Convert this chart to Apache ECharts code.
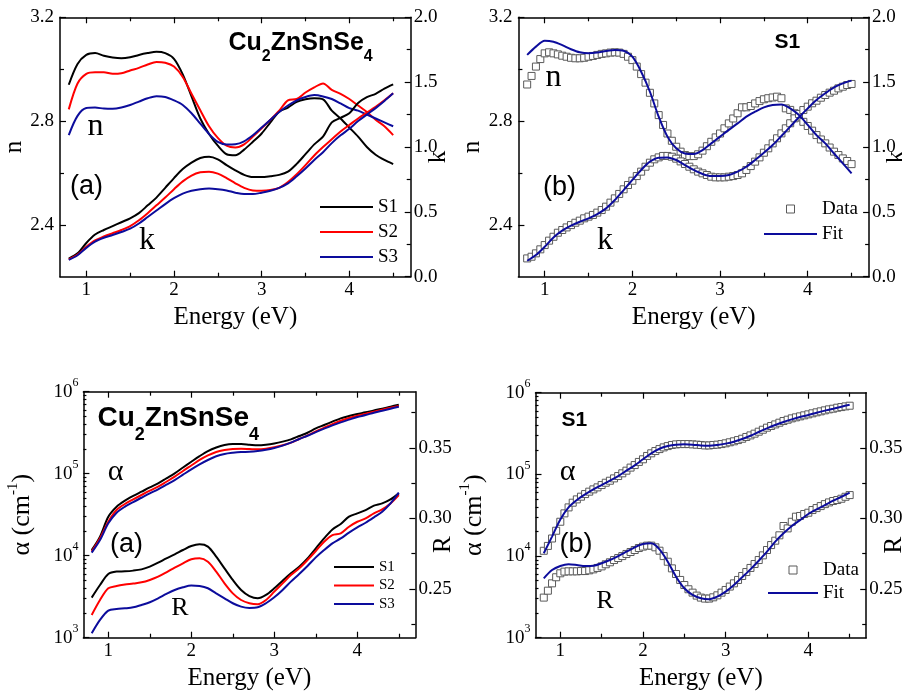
<!DOCTYPE html>
<html><head><meta charset="utf-8">
<script src="https://cdn.jsdelivr.net/npm/echarts@6/dist/echarts.min.js"></script>
<style>html,body{margin:0;padding:0;background:#fff}#c{width:902px;height:695px}</style>
</head><body><div id="c"></div>
<script>
// ---------- DATA ----------
const energy10 = [0.8,0.9,1.0,1.1,1.2,1.3,1.4,1.5,1.6,1.7,1.8,1.9,2.0,2.1,2.2,2.3,2.4,2.5,2.6,2.7,2.8,2.9,3.0,3.1,3.2,3.3,3.4,3.5,3.6,3.7,3.8,3.9,4.0,4.1,4.2,4.3,4.4,4.5];
const energy05 = [0.8,0.85,0.9,0.95,1.0,1.05,1.1,1.15,1.2,1.25,1.3,1.35,1.4,1.45,1.5,1.55,1.6,1.65,1.7,1.75,1.8,1.85,1.9,1.95,2.0,2.05,2.1,2.15,2.2,2.25,2.3,2.35,2.4,2.45,2.5,2.55,2.6,2.65,2.7,2.75,2.8,2.85,2.9,2.95,3.0,3.05,3.1,3.15,3.2,3.25,3.3,3.35,3.4,3.45,3.5,3.55,3.6,3.65,3.7,3.75,3.8,3.85,3.9,3.95,4.0,4.05,4.1,4.15,4.2,4.25,4.3,4.35,4.4,4.45,4.5];

// (a) top: n and k of samples S1..S3
const nS1 = [2.94,3.02,3.055,3.062,3.052,3.045,3.042,3.046,3.055,3.062,3.067,3.062,3.04,2.98,2.895,2.81,2.75,2.705,2.672,2.668,2.69,2.72,2.752,2.795,2.836,2.852,2.874,2.884,2.888,2.884,2.84,2.81,2.775,2.74,2.70,2.67,2.65,2.634];
const nS2 = [2.845,2.945,2.982,2.988,2.988,2.982,2.984,2.995,3.005,3.018,3.028,3.025,3.01,2.97,2.905,2.842,2.78,2.735,2.705,2.698,2.71,2.74,2.772,2.805,2.84,2.88,2.885,2.91,2.93,2.945,2.92,2.905,2.885,2.86,2.835,2.805,2.78,2.746];
const nS3 = [2.746,2.82,2.85,2.852,2.848,2.847,2.852,2.862,2.875,2.888,2.896,2.893,2.88,2.862,2.83,2.79,2.75,2.72,2.71,2.711,2.722,2.745,2.775,2.805,2.835,2.86,2.88,2.893,2.9,2.895,2.885,2.868,2.85,2.84,2.825,2.81,2.795,2.78];
const kS1 = [0.14,0.18,0.26,0.325,0.36,0.39,0.42,0.45,0.49,0.55,0.61,0.685,0.76,0.83,0.88,0.915,0.925,0.905,0.86,0.82,0.785,0.768,0.768,0.775,0.785,0.81,0.87,0.945,1.02,1.08,1.19,1.225,1.26,1.34,1.385,1.41,1.45,1.483];
const kS2 = [0.134,0.17,0.23,0.28,0.31,0.335,0.36,0.39,0.435,0.49,0.55,0.61,0.675,0.735,0.78,0.805,0.81,0.795,0.76,0.72,0.685,0.665,0.663,0.668,0.685,0.73,0.79,0.86,0.935,1.0,1.06,1.12,1.17,1.22,1.265,1.31,1.36,1.414];
const kS3 = [0.129,0.165,0.222,0.27,0.3,0.322,0.345,0.37,0.41,0.46,0.51,0.56,0.605,0.64,0.662,0.675,0.68,0.675,0.665,0.648,0.637,0.637,0.648,0.662,0.685,0.72,0.775,0.835,0.9,0.96,1.03,1.09,1.14,1.2,1.25,1.3,1.355,1.414];

// (b) top: S1 data and fit
const nData = [2.941,2.974,3.01,3.039,3.061,3.065,3.061,3.057,3.052,3.048,3.044,3.042,3.042,3.044,3.048,3.051,3.055,3.059,3.061,3.064,3.065,3.064,3.059,3.048,3.035,3.01,2.981,2.948,2.909,2.868,2.823,2.785,2.752,2.724,2.701,2.682,2.669,2.665,2.665,2.672,2.686,2.703,2.72,2.737,2.752,2.772,2.791,2.81,2.83,2.853,2.853,2.858,2.868,2.877,2.884,2.888,2.891,2.894,2.888,2.849,2.843,2.83,2.814,2.797,2.781,2.763,2.746,2.729,2.714,2.698,2.682,2.669,2.656,2.646,2.634];
const kData = [0.141,0.154,0.18,0.211,0.244,0.278,0.308,0.339,0.36,0.38,0.398,0.416,0.432,0.45,0.463,0.476,0.494,0.514,0.54,0.571,0.604,0.638,0.674,0.707,0.74,0.776,0.81,0.848,0.879,0.905,0.92,0.931,0.931,0.925,0.91,0.889,0.869,0.848,0.828,0.81,0.797,0.784,0.771,0.766,0.766,0.766,0.771,0.776,0.784,0.797,0.823,0.853,0.887,0.92,0.956,0.99,1.028,1.067,1.105,1.144,1.183,1.221,1.254,1.285,1.311,1.337,1.357,1.38,1.401,1.419,1.434,1.452,1.465,1.478,1.486];
const nFit = [3.055,3.087,3.11,3.106,3.093,3.077,3.065,3.061,3.064,3.07,3.074,3.071,3.048,2.99,2.913,2.817,2.74,2.695,2.675,2.673,2.688,2.714,2.74,2.766,2.791,2.817,2.836,2.853,2.862,2.864,2.849,2.823,2.785,2.746,2.714,2.675,2.637,2.598];
const kFit = [0.123,0.167,0.231,0.303,0.355,0.393,0.424,0.45,0.483,0.527,0.591,0.668,0.746,0.823,0.887,0.918,0.92,0.9,0.861,0.823,0.792,0.776,0.776,0.784,0.81,0.848,0.9,0.956,1.015,1.085,1.157,1.229,1.298,1.362,1.414,1.46,1.491,1.512];

// (a) bottom: alpha and R of samples S1..S3
const alphaS1 = [11700,17100,29900,39600,46900,53500,60300,68000,76200,87700,101000,119000,140000,164000,189000,209000,224000,230000,230000,226000,222000,226000,234000,246000,262000,288000,316000,357000,392000,431000,473000,505000,534000,560000,592000,621000,657000,694000];
const alphaS2 = [11200,16300,26000,36100,42700,48600,55000,62000,69400,79800,92000,108000,126000,147000,167000,184000,194000,200000,202000,200000,198000,202000,210000,222000,239000,265000,293000,328000,364000,403000,443000,477000,510000,539000,570000,603000,638000,668000];
const alphaS3 = [10900,15500,24800,33400,39600,45100,50900,57500,64400,73500,83700,97300,113000,130000,147000,163000,174000,180000,184000,185000,189000,196000,206000,220000,239000,265000,290000,322000,354000,388000,423000,456000,491000,519000,555000,586000,621000,657000];
const RS1 = [0.2439,0.2528,0.2606,0.2623,0.2625,0.263,0.2639,0.2658,0.2686,0.2717,0.2745,0.2776,0.2804,0.2816,0.28,0.2729,0.2646,0.2564,0.2493,0.245,0.2434,0.2458,0.2505,0.2559,0.2611,0.2658,0.2717,0.2788,0.2858,0.2922,0.296,0.3012,0.3035,0.3059,0.309,0.3106,0.3134,0.3177];
const RS2 = [0.2316,0.2422,0.2505,0.2521,0.2531,0.2538,0.2547,0.2564,0.2587,0.2618,0.2651,0.2682,0.271,0.2717,0.2693,0.2623,0.254,0.2469,0.2422,0.2399,0.2392,0.2422,0.2481,0.254,0.2599,0.2646,0.2705,0.2769,0.2835,0.2882,0.2894,0.2941,0.2976,0.3,0.3035,0.3064,0.3106,0.3165];
const RS3 = [0.2186,0.2281,0.2347,0.2358,0.2363,0.237,0.2387,0.2406,0.2434,0.2465,0.2493,0.2512,0.2524,0.2521,0.2505,0.2469,0.2434,0.2399,0.2375,0.2366,0.237,0.2399,0.2441,0.2493,0.2552,0.2606,0.2663,0.2724,0.2776,0.2823,0.2858,0.2899,0.2936,0.2969,0.3007,0.3047,0.3106,0.3182];

// (b) bottom: S1 data and fit
const alphaData = [11600,13300,16400,20400,26300,33300,39400,45000,49400,53300,57400,61400,65500,69300,74000,79000,83600,89300,95400,103000,111000,121000,130000,142000,153000,168000,181000,193000,204000,214000,222000,229000,233000,235000,235000,235000,233000,231000,229000,226000,226000,229000,231000,235000,240000,247000,254000,263000,273000,287000,300000,315000,333000,352000,373000,391000,409000,429000,450000,467000,485000,499000,513000,528000,543000,559000,575000,591000,608000,625000,637000,655000,667000,680000,693000];
const RData = [0.2439,0.2488,0.254,0.2583,0.2611,0.2623,0.2625,0.2625,0.2625,0.2627,0.2627,0.2632,0.2639,0.2649,0.266,0.2675,0.2689,0.2705,0.2719,0.2733,0.2748,0.2762,0.2776,0.279,0.28,0.2807,0.2807,0.2795,0.2771,0.2733,0.2693,0.2646,0.2606,0.2564,0.2528,0.2498,0.2474,0.2453,0.2439,0.2432,0.2432,0.2441,0.2455,0.2474,0.2493,0.2517,0.254,0.2564,0.2592,0.262,0.2649,0.2677,0.2705,0.2738,0.2776,0.2811,0.2842,0.288,0.2946,0.2929,0.2976,0.3012,0.3017,0.3031,0.304,0.3059,0.3073,0.3087,0.3101,0.3113,0.3123,0.313,0.3139,0.3153,0.3165];
const alphaFit = [10800,17300,28100,39400,48500,56900,65500,74000,83600,95400,111000,129000,153000,181000,206000,222000,231000,233000,231000,226000,224000,229000,238000,251000,271000,297000,330000,366000,402000,437000,471000,504000,533000,569000,603000,637000,674000,713000];
const RFit = [0.2575,0.2634,0.2663,0.2675,0.267,0.2663,0.2665,0.2682,0.2705,0.2733,0.2764,0.2795,0.2818,0.2823,0.2781,0.2693,0.2587,0.2505,0.2458,0.2434,0.2427,0.2446,0.2481,0.2528,0.2583,0.2639,0.27,0.2764,0.2835,0.2894,0.2946,0.2988,0.3031,0.3064,0.3094,0.3125,0.3153,0.3182];

// tick values
const xMajor = [1,2,3,4];
const xMinor = [1.5,2.5,3.5,4.5];
const nMajor = [2.4,2.8,3.2];
const nMinor = [2.6,3.0];
const kMajor = [0,0.5,1.0,1.5,2.0];
const kMinor = [0.25,0.75,1.25,1.75];
const RMajor = [0.25,0.30,0.35];
const RMinor = [0.225,0.275,0.325,0.375];
const alphaMinor = [2e3,3e3,4e3,5e3,6e3,7e3,8e3,9e3,2e4,3e4,4e4,5e4,6e4,7e4,8e4,9e4,2e5,3e5,4e5,5e5,6e5,7e5,8e5,9e5];
const sampleNames = ['S1','S2','S3'];
const sampleColors = ['#000000','#ff0000','#0c0c9c'];
const fitColor = '#0c0c9c';

// ---------- OPTION ----------
const SERIF = '"Liberation Serif","Times New Roman",serif';
const SANS = '"Liberation Sans",Arial,sans-serif';
const pairs = (xs, ys) => xs.map((x, i) => [x, ys[i]]);
const lineStyleAxis = {color:'#000', width:1.5};
const tickStyle = {color:'#000', width:1.2};
const TICKFS = 19;

const grids = [
  {left:60, top:17.3, width:350.7, height:259.4},
  {left:518.4, top:17.3, width:350.7, height:259.4},
  {left:83.4, top:391.7, width:332, height:246},
  {left:535.5, top:392.7, width:330.7, height:245}
].map(g => Object.assign(g, {outerBoundsMode:'none', containLabel:false}));

function xAxes(g) {
  const base = {type:'value', gridIndex:g, min:0.7, max:4.7, splitLine:{show:false},
    axisLine:{show:true, onZero:false, lineStyle:lineStyleAxis}};
  return [
    Object.assign({}, base, {position:'bottom',
      axisTick:{inside:true, length:6, customValues:xMajor, lineStyle:tickStyle},
      axisLabel:{customValues:xMajor, color:'#000', fontFamily:SERIF, fontSize:TICKFS, margin:4},
      name:'Energy (eV)', nameLocation:'middle', nameGap:28, nameMoveOverlap:false,
      nameTextStyle:{fontFamily:SERIF, fontSize:25, color:'#000'}}),
    Object.assign({}, base, {position:'bottom', axisLine:{show:false, onZero:false},
      axisTick:{inside:true, length:4, customValues:xMinor, lineStyle:tickStyle}, axisLabel:{show:false}}),
    Object.assign({}, base, {position:'top',
      axisTick:{inside:true, length:6, customValues:xMajor, lineStyle:tickStyle}, axisLabel:{show:false}}),
    Object.assign({}, base, {position:'top', axisLine:{show:false, onZero:false},
      axisTick:{inside:true, length:4, customValues:xMinor, lineStyle:tickStyle}, axisLabel:{show:false}})
  ];
}

function linY(g, pos, min, max, major, minor, digits, name, gap, pad) {
  const base = {type:'value', gridIndex:g, position:pos, min:min, max:max, splitLine:{show:false},
    axisLine:{show:true, onZero:false, lineStyle:lineStyleAxis}};
  return [
    Object.assign({}, base, {
      axisTick:{inside:true, length:6, customValues:major, lineStyle:tickStyle},
      axisLabel:{customValues:major, color:'#000', fontFamily:SERIF, fontSize:TICKFS, margin:pos === 'left' ? 6 : 3,
        formatter: v => v.toFixed(digits)},
      name:name, nameLocation:'middle', nameGap:gap, nameRotate:90, nameMoveOverlap:false,
      nameTextStyle:{fontFamily:SERIF, fontSize:25, color:'#000', padding:pad}}),
    Object.assign({}, base, {axisLine:{show:false, onZero:false},
      axisTick:{inside:true, length:4, customValues:minor, lineStyle:tickStyle}, axisLabel:{show:false}})
  ];
}

function logY(g) {
  const base = {type:'log', logBase:10, gridIndex:g, position:'left', min:1000, max:1000000, splitLine:{show:false},
    axisLine:{show:true, onZero:false, lineStyle:lineStyleAxis}};
  return [
    Object.assign({}, base, {
      axisTick:{inside:true, length:6, lineStyle:tickStyle},
      axisLabel:{color:'#000', margin:5,
        formatter: v => '{b|10}{s|' + Math.round(Math.log10(v)) + '}',
        rich:{b:{fontFamily:SERIF, fontSize:TICKFS, lineHeight:30, color:'#000'},
              s:{fontFamily:SERIF, fontSize:12, lineHeight:12, verticalAlign:'top', color:'#000'}}},
      name:'{a|α (cm}{s|-1}{a|)}', nameLocation:'middle', nameGap:45, nameRotate:90, nameMoveOverlap:false,
      nameTextStyle:{rich:{a:{fontFamily:SERIF, fontSize:26, lineHeight:33, color:'#000'},
                           s:{fontFamily:SERIF, fontSize:15, lineHeight:15, verticalAlign:'top', color:'#000'}}}}),
    Object.assign({}, base, {axisLine:{show:false, onZero:false},
      axisTick:{inside:true, length:3, customValues:alphaMinor, lineStyle:tickStyle}, axisLabel:{show:false}})
  ];
}

const xAxis = [].concat(xAxes(0), xAxes(1), xAxes(2), xAxes(3));
const yAxis = [].concat(
  linY(0,'left',2.2,3.2,nMajor,nMinor,1,'n',33,[0,0,0,0]),
  linY(0,'right',0,2,kMajor,kMinor,1,'k',15,[0,20,0,0]),
  linY(1,'left',2.2,3.2,nMajor,nMinor,1,'n',33,[0,0,0,0]),
  linY(1,'right',0,2,kMajor,kMinor,1,'k',15,[0,20,0,0]),
  logY(2),
  linY(2,'right',0.2155,0.3897,RMajor,RMinor,2,'R',16,[0,60,0,0]),
  logY(3),
  linY(3,'right',0.2155,0.389,RMajor,RMinor,2,'R',16,[0,60,0,0])
);

const series = [];
function addLine(name, xi, yi, xs, ys, color, z) {
  series.push({type:'line', name:name, xAxisIndex:xi, yAxisIndex:yi, data:pairs(xs, ys),
    showSymbol:false, symbol:'none', smooth:0.3, lineStyle:{color:color, width:2}, itemStyle:{color:color}, z:z || 2, silent:true});
}
function addScatter(name, xi, yi, xs, ys) {
  series.push({type:'scatter', name:name, xAxisIndex:xi, yAxisIndex:yi, data:pairs(xs, ys),
    symbol:'rect', symbolSize:7, itemStyle:{color:'#ffffff', borderColor:'#5a5a5a', borderWidth:1, opacity:1}, z:1, silent:true});
}
// top-left
[nS1,nS2,nS3].forEach((d,i) => addLine(sampleNames[i], 0, 0, energy10, d, sampleColors[i]));
[kS1,kS2,kS3].forEach((d,i) => addLine(sampleNames[i], 0, 2, energy10, d, sampleColors[i]));
// top-right
addScatter('Data', 4, 4, energy05, nData);
addScatter('Data', 4, 6, energy05, kData);
addLine('Fit', 4, 4, energy10, nFit, fitColor, 3);
addLine('Fit', 4, 6, energy10, kFit, fitColor, 3);
// bottom-left
[alphaS1,alphaS2,alphaS3].forEach((d,i) => addLine(sampleNames[i], 8, 8, energy10, d, sampleColors[i]));
[RS1,RS2,RS3].forEach((d,i) => addLine(sampleNames[i], 8, 10, energy10, d, sampleColors[i]));
// bottom-right
addScatter('Data', 12, 12, energy05, alphaData);
addScatter('Data', 12, 14, energy05, RData);
addLine('Fit', 12, 12, energy10, alphaFit, fitColor, 3);
addLine('Fit', 12, 14, energy10, RFit, fitColor, 3);

const squareIcon = 'path://M0,0L10,0L10,10L0,10Z';
const dataLegendItem = {name:'Data', icon:squareIcon, itemStyle:{color:'#ffffff', borderColor:'#5a5a5a', borderWidth:1, opacity:1}};
const legendBase = {orient:'vertical', itemGap:0, padding:0, selectedMode:false, itemStyle:{opacity:0}};
const legend = [
  Object.assign({}, legendBase, {left:319, top:194.5, itemWidth:53, itemHeight:12,
   data:sampleNames, textStyle:{fontFamily:SERIF, fontSize:19, lineHeight:25, color:'#000'}}),
  Object.assign({}, legendBase, {left:763, top:196.5, itemWidth:53, itemHeight:8,
   data:[dataLegendItem, 'Fit'], textStyle:{fontFamily:SERIF, fontSize:19, lineHeight:25, color:'#000'}}),
  Object.assign({}, legendBase, {left:333, top:557.75, itemWidth:40, itemHeight:10,
   data:sampleNames, textStyle:{fontFamily:SERIF, fontSize:15, lineHeight:18.5, color:'#000'}}),
  Object.assign({}, legendBase, {left:767, top:558.5, itemWidth:50, itemHeight:8,
   data:[dataLegendItem, 'Fit'], textStyle:{fontFamily:SERIF, fontSize:19, lineHeight:23, color:'#000'}})
];

function formula(size, sub, pad) {
  return {fontFamily:SANS, fontWeight:'bold', rich:{
    m:{fontFamily:SANS, fontWeight:'bold', fontSize:size, lineHeight:size, verticalAlign:'top', color:'#000'},
    s:{fontFamily:SANS, fontWeight:'bold', fontSize:sub, lineHeight:sub, verticalAlign:'top', padding:[pad,0,0,0], color:'#000'}}};
}
const title = [
  {text:'{m|Cu}{s|2}{m|ZnSnSe}{s|4}', left:228.5, top:30.5, padding:0, textStyle:formula(25,16,18)},
  {text:'{m|Cu}{s|2}{m|ZnSnSe}{s|4}', left:97.5, top:404, padding:0, textStyle:formula(28,18,22)},
  {text:'S1', left:774.5, top:31.5, padding:0, textStyle:{fontFamily:SANS, fontWeight:'bold', fontSize:21, lineHeight:21, color:'#000'}},
  {text:'S1', left:561.5, top:410, padding:0, textStyle:{fontFamily:SANS, fontWeight:'bold', fontSize:21, lineHeight:21, color:'#000'}}
];

function label(x, y, text, font) {
  return {type:'text', x:x, y:y, silent:true,
    style:{text:text, font:font, fill:'#000', align:'center', verticalAlign:'middle', textAlign:'center', textVerticalAlign:'middle'}};
}
const f32 = '32px ' + SERIF, f30 = '30px ' + SERIF, f26 = '26px ' + SERIF, fa = '27px ' + SANS;
const graphic = [
  label(95.5, 126.5, 'n', f32), label(147, 240.5, 'k', f32), label(86.5, 187, '(a)', fa),
  label(553.5, 77.5, 'n', f32), label(605, 240.5, 'k', f32), label(559.5, 188, '(b)', fa),
  label(115.5, 472, 'α', f30), label(126.5, 545, '(a)', fa), label(180, 608, 'R', f26),
  label(567.5, 472, 'α', f30), label(576, 545, '(b)', fa), label(605, 601.5, 'R', f26)
];

const chart = echarts.init(document.getElementById('c'), null, {renderer:'canvas'});
chart.setOption({
  backgroundColor:'#ffffff', animation:false,
  textStyle:{fontFamily:SERIF},
  grid:grids, xAxis:xAxis, yAxis:yAxis, series:series, legend:legend, title:title, graphic:graphic
});
</script></body></html>
